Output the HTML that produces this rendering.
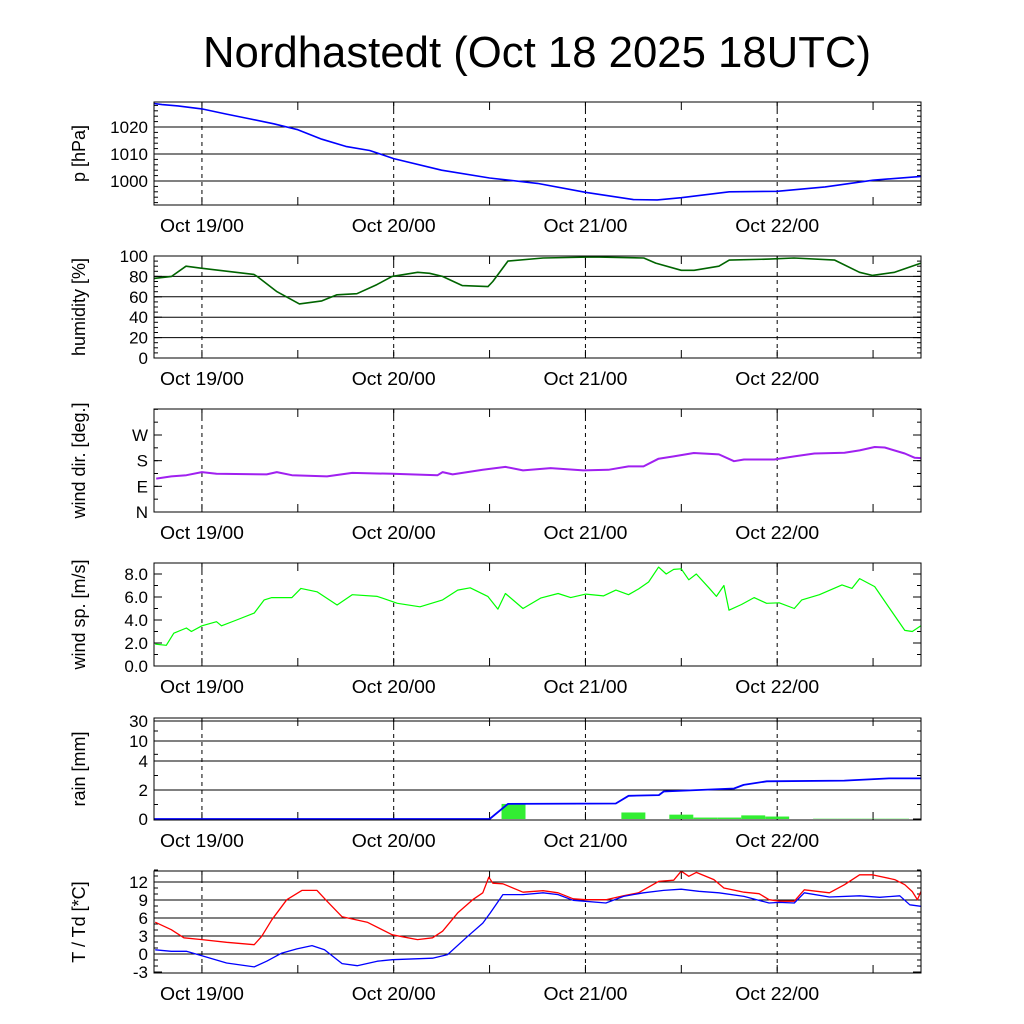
<!DOCTYPE html>
<html><head><meta charset="utf-8"><style>body{margin:0;background:#fff}svg{display:block;font-family:"Liberation Sans",sans-serif}</style></head>
<body>
<svg id="chart" width="1024" height="1024" viewBox="0 0 1024 1024">
<rect width="1024" height="1024" fill="#fff"/>
<text x="537" y="67" font-size="44" text-anchor="middle" textLength="668" lengthAdjust="spacingAndGlyphs">Nordhastedt (Oct 18 2025 18UTC)</text>
</svg>
<script>
// hours since Oct 18 18UTC
const presH=[0,1,3,6,9,12,15,18,21,24,27,30,36,42,48,54,60,63,66,72,78,84,90,96];
const presV=[1028.7,1028.3,1027.8,1026.7,1024.8,1023,1021.2,1019,1015.5,1012.8,1011.3,1008.3,1004,1001.1,999.1,995.8,993.1,993.0,993.8,996,996.2,997.8,1000.3,1001.7];
const humH=[0,2.2,4,5.9,12.5,12.9,15.4,18.2,21,22.9,25.4,27.9,29.8,33,34.5,36.1,38.6,41.8,42.4,44.3,48.7,55,61.3,62.8,66,67.6,70.7,72,77,80.1,85.2,88.3,89.9,92.7,96];
const humV=[78,80,90,88,82,80,65,53,56,62,63,72,80,84,83,80,71,70,75,95,98,99,98,93,86,86,90,96,97,98,96,84,81,84,93];
const dirZX=[30,60,90,121,150,250,270,300,370,420,500,590,600,620,680,725,760,815,880,930,970,1000,1030,1060,1100,1150,1180,1200,1260,1300,1340,1400,1430,1460,1480,1520,1540,1552];
const dirV=[117,125,129,140,134,132,140,129,125,137,134,129,140,132,148,158,146,154,146,148,160,160,187,195,207,202,178,184,184,195,205,208,216,228,226,205,190,189];
const spdZX=[28,50,65,90,100,121,150,160,190,225,245,260,300,318,350,390,420,470,510,555,600,630,655,690,710,725,760,795,830,855,885,920,945,970,990,1010,1030,1045,1060,1075,1090,1105,1130,1145,1160,1170,1195,1220,1245,1270,1300,1315,1350,1395,1415,1430,1460,1490,1520,1535,1552];
const spdV=[1.9,1.8,2.85,3.3,3.0,3.5,3.85,3.5,4.0,4.6,5.75,5.95,5.95,6.75,6.45,5.3,6.2,6.05,5.45,5.15,5.75,6.6,6.8,6.05,4.95,6.3,5.0,5.9,6.3,5.95,6.25,6.1,6.6,6.2,6.7,7.3,8.6,8.0,8.4,8.45,7.5,8.0,6.8,6.05,7.0,4.85,5.35,5.95,5.45,5.5,5.0,5.75,6.2,7.05,6.75,7.6,6.9,5.0,3.1,3.0,3.5];
const rainCumH=[0,42,44.3,57.8,59.4,63.2,63.8,72.6,73.8,76.7,86.4,92,96];
const rainCumV=[0,0,1.04,1.07,1.6,1.65,1.9,2.1,2.35,2.6,2.65,2.8,2.8];
const rainBarH=[45,60,66,69,72,75,78,84,87,90,93];
const rainBarV=[1.04,0.45,0.3,0.1,0.1,0.25,0.17,0.02,0.02,0.02,0.02];
const tZX=[28,60,85,121,170,225,240,260,290,320,350,370,400,450,500,550,580,600,630,660,680,692,700,720,760,800,830,860,885,925,960,990,1030,1060,1075,1090,1105,1140,1160,1200,1230,1250,1270,1300,1320,1370,1400,1430,1455,1500,1520,1535,1545,1552];
const tV=[5.3,4.05,2.7,2.4,1.95,1.55,2.95,5.7,9.05,10.6,10.6,8.8,6.2,5.3,3.2,2.4,2.7,3.8,6.85,9.05,10.2,12.8,11.8,11.7,10.3,10.55,10.2,9.2,9.05,9.05,9.7,10.2,12.1,12.3,13.8,12.95,13.6,12.4,11.0,10.3,10.05,9.05,8.8,8.8,10.7,10.2,11.55,13.2,13.2,12.4,11.55,10.4,9.05,10.4];
const tdZX=[28,60,90,121,170,225,250,280,310,340,365,400,430,470,500,580,610,650,680,695,720,760,800,830,860,925,960,1000,1040,1075,1110,1150,1200,1250,1270,1300,1320,1370,1430,1470,1510,1530,1552];
const tdV=[0.7,0.45,0.45,-0.3,-1.5,-2.15,-1.2,0.15,0.85,1.4,0.7,-1.6,-1.95,-1.2,-0.95,-0.7,-0.1,2.95,5.15,6.85,9.9,9.9,10.2,9.9,8.95,8.5,9.6,10.2,10.6,10.8,10.45,10.2,9.6,8.5,8.6,8.5,10.2,9.5,9.7,9.45,9.7,8.2,7.95];
const dayLabels=["Oct 19/00","Oct 20/00","Oct 21/00","Oct 22/00"];

const svg=document.getElementById('chart');
const NS='http://www.w3.org/2000/svg';
const X0=154,X1=921;
const xs=h=>X0+h*(X1-X0)/96;
const zh=zx=>6+(zx-121)*72/1145;
function mk(tag,attrs,parent){const e=document.createElementNS(NS,tag);for(const k in attrs)e.setAttribute(k,attrs[k]);(parent||svg).appendChild(e);return e;}
function lin(v0,y0,v1,y1){return v=>y0+(v-v0)*(y1-y0)/(v1-v0);}
function pw(vs,ys){return v=>{for(let i=0;i<vs.length-1;i++){if(v<=vs[i+1]||i==vs.length-2)return ys[i]+(v-vs[i])*(ys[i+1]-ys[i])/(vs[i+1]-vs[i]);}};}

function panel(name,top,bot,yf,ticks,labels,minor,title,grid){
  const g=mk('g',{});
  
  
  ticks.forEach((t,i)=>{
    const y=yf(t);
    if(grid&&y>top+1&&y<bot-1){const l=mk('line',{x1:X0,x2:X1,y1:y,y2:y,stroke:'#000','stroke-width':1},g);
    }
    const tx=mk('text',{x:148,y:y+6,'font-size':17,'text-anchor':'end'},g);tx.textContent=labels[i];
    
    mk('line',{x1:X0,x2:X0+8,y1:y,y2:y,stroke:'#000'},g);mk('line',{x1:X1-8,x2:X1,y1:y,y2:y,stroke:'#000'},g);
  });
  minor.forEach(t=>{const y=yf(t);mk('line',{x1:X0,x2:X0+4,y1:y,y2:y,stroke:'#000'},g);mk('line',{x1:X1-4,x2:X1,y1:y,y2:y,stroke:'#000'},g);});
  for(let d=1;d<=4;d++){const x=xs(6+24*(d-1));
    const l=mk('line',{x1:x,x2:x,y1:top,y2:bot,stroke:'#000','stroke-dasharray':'4,4'},g);
    
    const tx=mk('text',{x:x,y:bot+27,'font-size':18,'text-anchor':'middle',textLength:84,lengthAdjust:'spacingAndGlyphs'},g);tx.textContent=dayLabels[d-1];
    }
  for(let h=6;h<96;h+=12){const x=xs(h);mk('line',{x1:x,x2:x,y1:bot-8,y2:bot,stroke:'#000'},g);mk('line',{x1:x,x2:x,y1:top,y2:top+8,stroke:'#000'},g);}
  const cy=(top+bot)/2;
  const tt=mk('text',{x:0,y:0,'font-size':18,'text-anchor':'middle',transform:`translate(85,${cy}) rotate(-90)`},g);tt.textContent=title;
  
  return g;
}
function frame(name,top,bot){const r=mk('rect',{x:X0,y:top,width:X1-X0,height:bot-top,fill:'none',stroke:'#000','stroke-width':1});
  }
function line(name,H,V,yf,color,w){const d=H.map((h,i)=>(i?'L':'M')+xs(h).toFixed(1)+','+yf(V[i]).toFixed(1)).join('');
  const p=mk('path',{d:d,fill:'none',stroke:color,'stroke-width':w||1.5,'stroke-linejoin':'round'});
  }
function range(a,b,s){const r=[];for(let v=a;v<=b+1e-9;v+=s)r.push(v);return r;}

// 1 pressure
const yP=lin(1000,181,1020,127);
panel('pressure',102,205,yP,[1000,1010,1020],['1000','1010','1020'],range(992,1028,2),'p [hPa]',true);
line('pressure-line',presH,presV,yP,'#0000ff',1.6);frame('pressure',102,205);
// 2 humidity
const yHu=lin(0,358,100,256);
panel('humidity',256,358,yHu,[0,20,40,60,80,100],['0','20','40','60','80','100'],range(0,100,5),'humidity [%]',true);
line('humidity-line',humH,humV,yHu,'#006400',1.6);frame('humidity',256,358);
// 3 wind dir
const yD=lin(0,512,270,435);
panel('wind-dir',409,512,yD,[0,90,180,270],['N','E','S','W'],range(0,360,45),'wind dir. [deg.]',false);
line('wind-dir-line',dirZX.map(zh),dirV,yD,'#a020f0',2);frame('wind-dir',409,512);
// 4 wind speed
const yS=lin(0,666,8,574);
panel('wind-speed',563,666,yS,[0,2,4,6,8],['0.0','2.0','4.0','6.0','8.0'],range(0,8.8,1),'wind sp. [m/s]',false);
line('wind-speed-line',spdZX.map(zh),spdV,yS,'#00ff00',1.2);frame('wind-speed',563,666);
// 5 rain
const yR=pw([0,2,4,10,30],[819,790,761,741,721]);
panel('rain',718,820,yR,[0,2,4,10,30],['0','2','4','10','30'],[1,3,6,20],'rain [mm]',true);
rainBarH.forEach((h,i)=>{const y=yR(rainBarV[i]);const r=mk('rect',{x:xs(h-1.5),y:y,width:xs(h+1.5)-xs(h-1.5),height:yR(0)-y,fill:'#33ee33'});
  });
line('rain-cumulative-line',rainCumH,rainCumV,yR,'#0000ff',1.8);frame('rain',718,820);
// 6 temperature
const yT=lin(0,954,12,882);
panel('temperature',871,973,yT,[-3,0,3,6,9,12],['-3','0','3','6','9','12'],range(-3,14,1),'T / Td [*C]',true);
line('temperature-line',tZX.map(zh),tV,yT,'#ff0000',1.3);
line('dewpoint-line',tdZX.map(zh),tdV,yT,'#0000ff',1.3);frame('temperature',871,973);
</script>
</body></html>
